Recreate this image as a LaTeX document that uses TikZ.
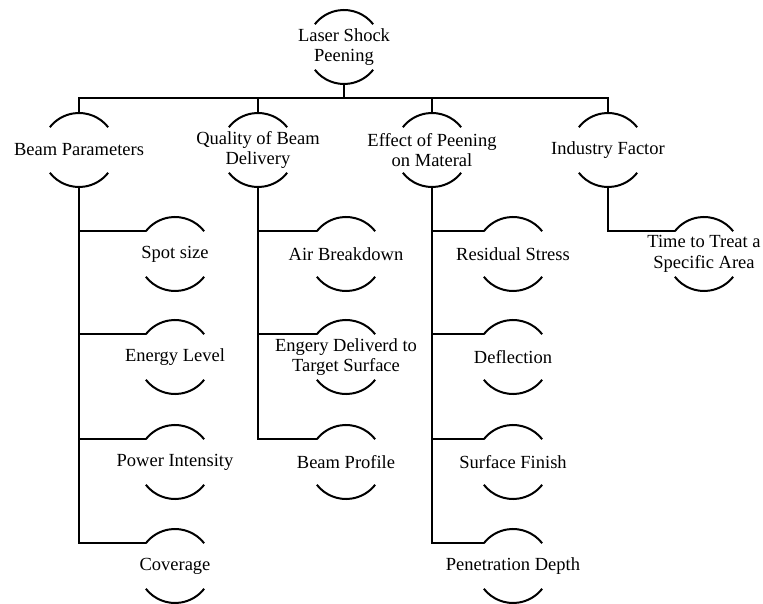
\documentclass[tikz,border=0pt]{standalone}
\usepackage{fontspec}
\setmainfont{Liberation Serif}

\tikzset{
  topic/.style={align=center, inner sep=1pt, font=\fontsize{18.5}{20.5}\selectfont},
  link/.style={line width=2pt},
}

\begin{document}
\begin{tikzpicture}[x=1pt, y=1pt]
    \useasboundingbox (0,0) rectangle (763,603);
    % root and first level
    \node[topic] (lsp) at (344,556) {Laser Shock\\Peening};
    \node[topic] (beam) at (79,453) {Beam Parameters};
    \node[topic] (quality) at (258,453) {Quality of Beam\\Delivery};
    \node[topic] (effect) at (432,453) {Effect of Peening\\on Materal};
    \node[topic] (industry) at (608,453) {Industry Factor};
    % second level
    \node[topic] (spot) at (175,349) {Spot size};
    \node[topic] (energy) at (175,246) {Energy Level};
    \node[topic] (power) at (175,141) {Power Intensity};
    \node[topic] (coverage) at (175,37) {Coverage};
    \node[topic] (air) at (346,349) {Air Breakdown};
    \node[topic] (delivered) at (346,246) {Engery Deliverd to\\Target Surface};
    \node[topic] (profile) at (346,141) {Beam Profile};
    \node[topic] (stress) at (513,349) {Residual Stress};
    \node[topic] (deflection) at (513,246) {Deflection};
    \node[topic] (finish) at (513,141) {Surface Finish};
    \node[topic] (depth) at (513,37) {Penetration Depth};
    \node[topic] (treat) at (704,349) {Time to Treat a\\Specific Area};

    % upper and lower caps round each topic
    \foreach \n in {lsp,beam,quality,effect,industry,spot,energy,power,coverage,
                    air,delivered,profile,stress,deflection,finish,depth,treat} {
      \draw[link] ([shift={(38:37pt)}]\n.center) arc[start angle=38, end angle=142, radius=37pt];
      \draw[link] ([shift={(218:37pt)}]\n.center) arc[start angle=218, end angle=322, radius=37pt];
    }

    % bus under the root
    \coordinate (bus) at (344,505);
    \draw[link] ([shift={(270:37pt)}]lsp.center) -- (bus);
    \foreach \n in {beam,quality,effect,industry}
      \draw[link] (bus) -| ([shift={(90:37pt)}]\n.center);

    % branches
    \foreach \p/\c in {beam/spot,beam/energy,beam/power,beam/coverage,
                       quality/air,quality/delivered,quality/profile,
                       effect/stress,effect/deflection,effect/finish,effect/depth,
                       industry/treat}
      \draw[link] ([shift={(270:37pt)}]\p.center) |- ([shift={(142:37pt)}]\c.center);
\end{tikzpicture}
\end{document}
